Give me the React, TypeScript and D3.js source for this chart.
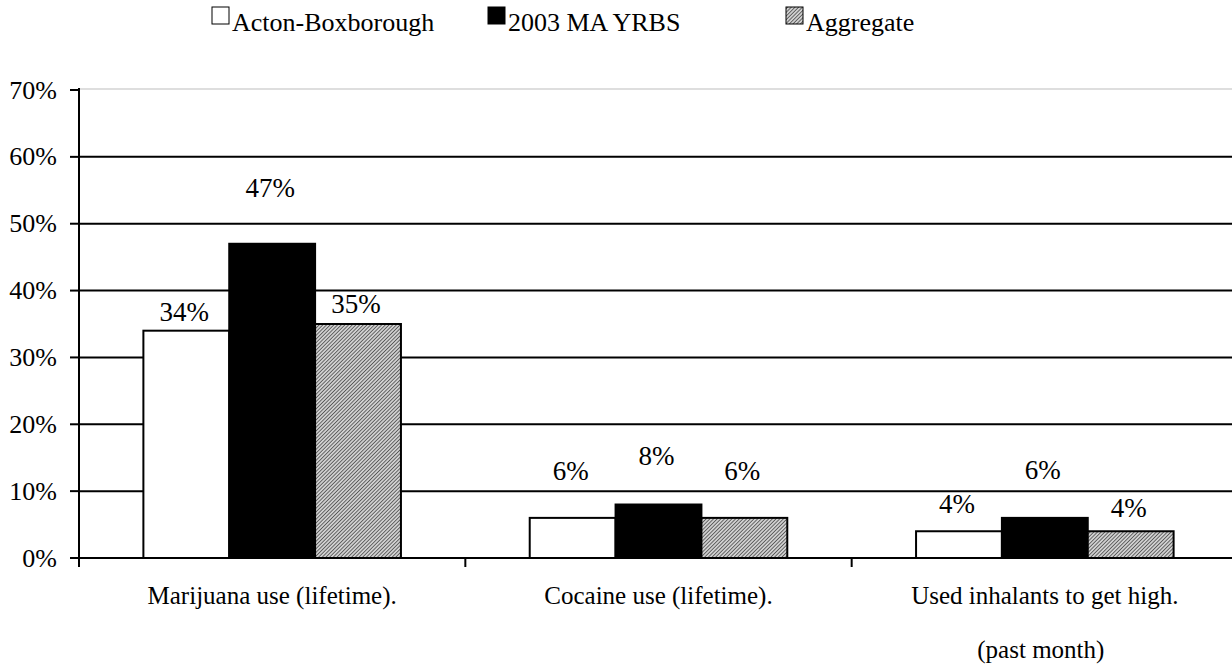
import React from "react";
import * as d3 from "d3";

const categories = ["Marijuana use (lifetime).", "Cocaine use (lifetime).", "Used inhalants to get high."];
const categorySubLabels = ["", "", "(past month)"];
const seriesNames = ["Acton-Boxborough", "2003 MA YRBS", "Aggregate"];
const actonValues = [34, 6, 4];
const yrbsValues = [47, 8, 6];
const aggregateValues = [35, 6, 4];
const yTicks = [0, 10, 20, 30, 40, 50, 60, 70];

const W = 1232, H = 667;
const FONT = "'Liberation Serif', 'Times New Roman', serif";

// label gaps (px above bar top), per series then category
const LABEL_GAP = [
  [10, 38, 18],
  [47, 40, 39],
  [11, 38, 14],
];

export default function App() {
  const left = 79, right = 1238, top = 90, bottom = 558;
  const y = d3.scaleLinear().domain([0, 70]).range([bottom, top]);
  const x = d3.scaleBand<string>().domain(categories).range([left, right]).paddingInner(0).paddingOuter(0);
  const inner = d3.scaleBand<number>().domain([0, 1, 2]).range([0, x.bandwidth()]).paddingOuter(0.75).paddingInner(0);
  const series = [actonValues, yrbsValues, aggregateValues];
  const fills = ["#fff", "#000", "url(#hatch)"];
  const legendX = [212, 488, 786];
  return (
    <svg width={W} height={H} style={{ position: "absolute", left: 0, top: 0, background: "#fff" }}>
      <defs>
        <pattern id="hatch" patternUnits="userSpaceOnUse" width="2.6" height="2.6" patternTransform="rotate(45)">
          <rect width="2.6" height="2.6" fill="#d0d0d0" />
          <line x1="0" y1="0" x2="0" y2="2.6" stroke="#222" strokeWidth="1.2" />
        </pattern>
      </defs>
      {/* legend */}
      <g fontFamily={FONT} fontSize={26} fill="#000">
        {seriesNames.map((s, i) => {
          const xs = legendX[i];
          return (
            <g key={s}>
              <rect x={xs} y={7} width={17} height={17} fill={fills[i]} stroke="#000" strokeWidth={1} />
              <text x={xs + 20} y={31}>{s}</text>
            </g>
          );
        })}
      </g>
      {/* gridlines */}
      {yTicks.map(t => (
        <line key={t} x1={left} x2={W} y1={y(t) - (t === 70 ? 1 : 0)} y2={y(t) - (t === 70 ? 1 : 0)} stroke={t === 70 ? "#bdbdbd" : "#000"} strokeWidth={t === 70 ? 1.2 : 2} />
      ))}
      {/* y ticks */}
      {yTicks.map(t => (
        <g key={"t" + t}>
          <line x1={left - 9} x2={left} y1={y(t)} y2={y(t)} stroke="#000" strokeWidth={2} />
          <text x={57} y={y(t)} dy="0.33em" textAnchor="end" fontFamily={FONT} fontSize={26}>{t}%</text>
        </g>
      ))}
      {/* bars */}
      {categories.map((c, ci) => (
        <g key={c}>
          {series.map((vals, si) => {
            const bx = (x(c) as number) + (inner(si) as number);
            const bw = inner.bandwidth();
            return (
              <g key={si}>
                <rect x={bx} y={y(vals[ci])} width={bw} height={bottom - y(vals[ci])} fill={fills[si]} stroke="#000" strokeWidth={2} />
                <text x={bx + bw / 2 - 2} y={y(vals[ci]) - LABEL_GAP[si][ci]} textAnchor="middle" fontFamily={FONT} fontSize={27}>{vals[ci]}%</text>
              </g>
            );
          })}
        </g>
      ))}
      {/* axes */}
      <line x1={left} x2={left} y1={top - 2} y2={bottom} stroke="#000" strokeWidth={2} />
      <line x1={left} x2={W} y1={bottom} y2={bottom} stroke="#000" strokeWidth={2} />
      {categories.map((c, ci) => (
        <line key={"ct" + ci} x1={x(c) as number} x2={x(c) as number} y1={bottom} y2={bottom + 9} stroke="#000" strokeWidth={2} />
      ))}
      {categories.map((c, ci) => (
        <g key={"cl" + ci} fontFamily={FONT} fontSize={25}>
          <text x={(x(c) as number) + x.bandwidth() / 2} y={604} textAnchor="middle">{c}</text>
          {categorySubLabels[ci] && (
            <text x={(x(c) as number) + x.bandwidth() / 2 - 4} y={658} textAnchor="middle">{categorySubLabels[ci]}</text>
          )}
        </g>
      ))}
    </svg>
  );
}
